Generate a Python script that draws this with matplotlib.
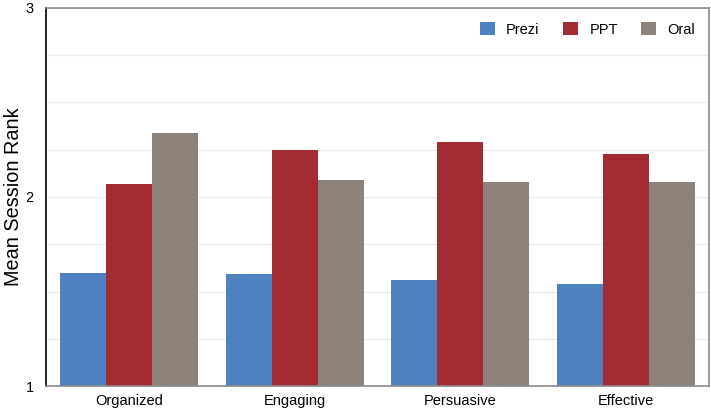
import numpy as np
import matplotlib.pyplot as plt
from matplotlib.ticker import MultipleLocator

plt.rcParams['font.family'] = ['Liberation Sans', 'DejaVu Sans']

# data
categories = ['Organized', 'Engaging', 'Persuasive', 'Effective']
prezi = [1.60, 1.59, 1.56, 1.54]
ppt = [2.07, 2.25, 2.29, 2.23]
oral = [2.34, 2.09, 2.08, 2.08]

series = [('Prezi', prezi, '#4E81C0'),
          ('PPT', ppt, '#A32C33'),
          ('Oral', oral, '#8C8279')]

fig = plt.figure(figsize=(7.11, 4.12), dpi=100)
ax = fig.add_axes([0.0647, 0.0631, 0.9325, 0.9175])

x = np.arange(len(categories))
width = 0.2775
for i, (name, vals, color) in enumerate(series):
    ax.bar(x + (i - 1) * width, np.array(vals) - 1, width, bottom=1,
           color=color, label=name, zorder=2)

ax.set_xlim(-0.5, len(categories) - 0.5)
ax.set_ylim(1, 3)
ax.set_yticks([1, 2, 3])
ax.yaxis.set_minor_locator(MultipleLocator(0.25))
ax.grid(axis='y', which='both', color='#EBEBEB', linewidth=0.8, zorder=0)
ax.set_xticks(x)
ax.set_xticklabels(categories)
ax.tick_params(axis='both', which='both', length=0, labelsize=10.5)
ax.tick_params(axis='x', pad=6)
ax.tick_params(axis='y', pad=9)
ax.set_ylabel('Mean Session Rank', fontsize=14.3, labelpad=2)

for side in ['top', 'right', 'bottom']:
    ax.spines[side].set_color('#8A8A8A')
    ax.spines[side].set_linewidth(1.2)
ax.spines['left'].set_color('black')
ax.spines['left'].set_linewidth(1.2)

ax.legend(loc='upper right', ncol=3, frameon=False, fontsize=10.5,
          handlelength=1.05, handleheight=1.05, handletextpad=0.75,
          columnspacing=1.6, bbox_to_anchor=(1.0, 1.0), borderaxespad=0.55)

fig.savefig('out.png', dpi=100)
